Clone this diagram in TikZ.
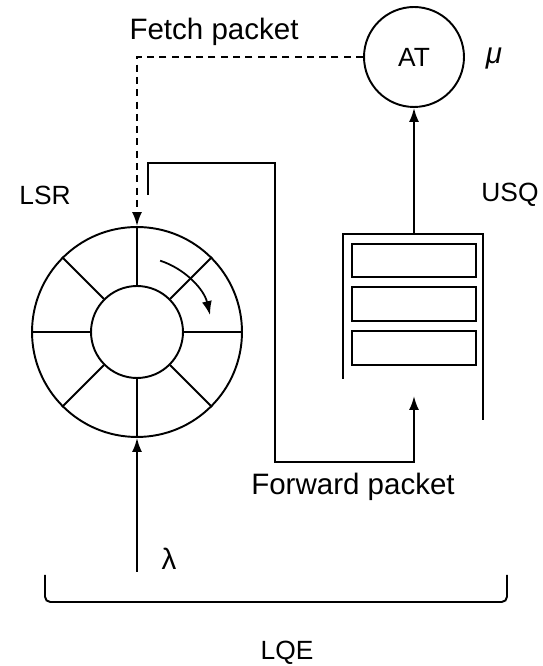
\documentclass[tikz,border=0pt]{standalone}
\usepackage{fontspec}
\setmainfont{Liberation Sans}
\usetikzlibrary{arrows.meta,positioning,calc}
\tikzset{
  arr/.style={-{Latex[length=2.8mm,width=2mm]},line width=1.1pt},
  link/.style={line width=1.1pt},
  fetchedge/.style={arr,dash pattern=on 4pt off 3pt},
  ringnode/.style={circle,draw,line width=1.1pt,inner sep=0pt},
  slotbox/.style={rectangle,draw,line width=1.1pt,minimum width=2.48cm,minimum height=0.67cm,inner sep=0pt},
  tag/.style={font=\fontsize{15}{18}\selectfont,inner sep=0pt},
  bigtag/.style={font=\fontsize{16.8}{20}\selectfont,inner sep=0pt}
}

\begin{document}
\begin{tikzpicture}[x=0.02cm,y=0.02cm]
\useasboundingbox (0,0) rectangle (543,666);

% LSR ring
\node[ringnode,minimum size=4.2cm]  (ring)  at (137,334) {};
\node[ringnode,minimum size=1.84cm] (hub)   at (137,334) {};
\foreach \a in {0,45,...,315}{
  \draw[link] (hub.\a) -- (ring.\a);
}
\draw[arr,line width=1pt] ($(ring.center)+(72:1.5cm)$) arc[start angle=72,end angle=13,radius=1.5cm];

% USQ queue
\coordinate (qlow)  at (343,287);
\coordinate (qtl)   at (343,432);
\coordinate (qtop)  at (414,432);
\coordinate (qtr)   at (483,432);
\coordinate (qrow)  at (483,246);
\draw[link] (qlow) -- (qtl) -- (qtr) -- (qrow);
\node[slotbox] (slot1) at (414,405.5) {};
\node[slotbox] (slot2) at (414,362) {};
\node[slotbox] (slot3) at (414,318) {};

% AT server
\node[ringnode,minimum size=2cm,tag] (at) at (414,609) {AT};
\draw[arr] (qtop) -- (at.south);

% fetch path
\coordinate (fcorner) at (137,609);
\draw[fetchedge] (at.west) -- (fcorner) -- (ring.north);

% forward path
\coordinate (fstart) at (148,471);
\coordinate (f1) at (148,503);
\coordinate (f2) at (275,503);
\coordinate (f3) at (275,204);
\coordinate (f4) at (414,204);
\coordinate (fend) at (414,270);
\draw[arr] (fstart) -- (f1) -- (f2) -- (f3) -- (f4) -- (fend);

% arrivals
\coordinate (arrive) at (137,94);
\draw[arr] (arrive) -- (ring.south);

% LQE bracket
\coordinate (bl) at (45,91);
\coordinate (br) at (507,91);
\draw[link,rounded corners=3pt] (bl) -- (45,64) -- (507,64) -- (br);

% labels
\node[bigtag] (fetch)   at (214,634) {Fetch packet};
\node[bigtag] (forward) at (353,179) {Forward packet};
\node[bigtag] (mu)      at (494,607) {\textit{μ}};
\node[tag]    (lsr)     at (45,471)  {LSR};
\node[tag]    (usq)     at (510,471) {USQ};
\node[bigtag] (lambda)  at (169,107) {λ};
\node[tag]    (lqe)     at (287,13)  {LQE};

\end{tikzpicture}
\end{document}
